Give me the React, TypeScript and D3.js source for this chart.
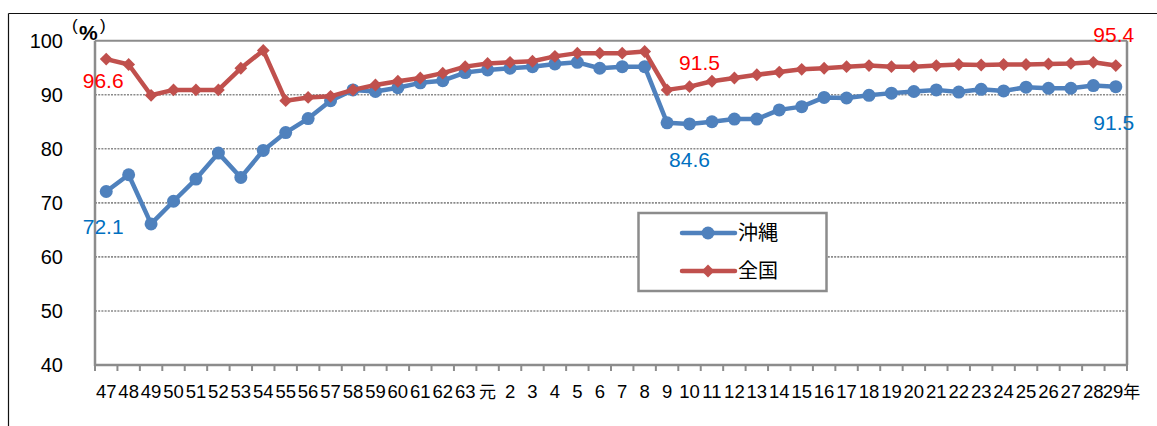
import React from "react";
import * as d3 from "d3";

const categories: string[] = [
  "47", "48", "49", "50", "51", "52", "53", "54", "55", "56", "57", "58", "59", "60", "61", "62", "63",
  "元", "2", "3", "4", "5", "6", "7", "8", "9", "10", "11", "12", "13", "14", "15", "16", "17", "18",
  "19", "20", "21", "22", "23", "24", "25", "26", "27", "28", "29年",
];

const okinawa: number[] = [
  72.1, 75.2, 66.1, 70.3, 74.4, 79.2, 74.7, 79.7, 83.0, 85.6, 88.9, 90.9, 90.6, 91.3, 92.2, 92.6, 94.1,
  94.6, 94.9, 95.2, 95.7, 96.0, 94.9, 95.2, 95.2, 84.8, 84.6, 85.0, 85.5, 85.5, 87.2, 87.8, 89.5, 89.4, 89.9,
  90.3, 90.6, 90.9, 90.5, 91.0, 90.7, 91.4, 91.2, 91.2, 91.7, 91.5,
];

const zenkoku: number[] = [
  96.6, 95.6, 89.9, 90.9, 90.9, 90.9, 94.9, 98.2, 88.9, 89.5, 89.7, 90.9, 91.8, 92.5, 93.1, 94.0, 95.2,
  95.8, 96.0, 96.2, 97.1, 97.7, 97.7, 97.7, 98.0, 90.9, 91.5, 92.5, 93.1, 93.7, 94.2, 94.7, 94.9, 95.2, 95.4,
  95.2, 95.2, 95.4, 95.6, 95.5, 95.6, 95.6, 95.7, 95.8, 96.0, 95.4,
];

const yTicks: number[] = [40, 50, 60, 70, 80, 90, 100];

const seriesNames: string[] = ["沖縄", "全国"];

// data labels: which category index, placed above or below the point
const okinawaLabels: { index: number; pos: "above" | "below" }[] = [
  { index: 0, pos: "below" },
  { index: 26, pos: "below" },
  { index: 45, pos: "below" },
];
const zenkokuLabels: { index: number; pos: "above" | "below" }[] = [
  { index: 0, pos: "below" },
  { index: 26, pos: "above" },
  { index: 45, pos: "above" },
];

const W = 1157;
const H = 426;
const left = 95;
const right = 1127;
const top = 40.7;
const bottom = 365;

const BLUE = "#4F81BD";
const RED = "#C0504D";
const BLUE_TXT = "#0070C0";
const RED_TXT = "#FF0000";
const AXIS = "#8C8C8C";
const FONT = "'Liberation Sans', Arial, sans-serif";
const CJK = "'Noto Sans CJK JP', sans-serif";

export default function App() {
  const x = d3.scaleBand<string>().domain(categories).range([left, right]).paddingInner(0).paddingOuter(0);
  const bw = x.bandwidth();
  const cx = (i: number) => (x(categories[i]) as number) + bw / 2;
  const y = d3.scaleLinear().domain([40, 100]).range([bottom, top]);

  const line = d3
    .line<number>()
    .x((_, i) => cx(i))
    .y((v) => y(v));

  const diamond = d3.symbol().type(d3.symbolSquare).size(82)();

  const labelEl = (
    vals: number[],
    labs: { index: number; pos: "above" | "below" }[],
    color: string,
    key: string
  ) =>
    labs.map((l, k) => {
      const v = vals[l.index];
      let dyPx: number;
      if (key === "z") {
        dyPx = l.index === 0 ? 29 : l.pos === "above" ? (l.index === 45 ? -24 : -17) : 29;
      } else {
        dyPx = 43;
      }
      return (
        <text
          key={key + k}
          x={cx(l.index) + (l.index === 45 ? -2 : l.index === 26 ? (key === "z" ? 10 : 0) : -3)}
          y={y(v) + dyPx}
          textAnchor="middle"
          fontFamily={FONT}
          fontSize={21}
          fill={color}
        >
          {v.toFixed(1)}
        </text>
      );
    });

  return (
    <div style={{ position: "absolute", left: 0, top: 0 }}>
      <svg width={W} height={H} style={{ display: "block", background: "#fff" }}>
        {/* outer frame */}
        <line x1={8.5} y1={13.5} x2={W} y2={13.5} stroke="#111" strokeWidth={1.2} />
        <line x1={8.5} y1={13.5} x2={8.5} y2={H} stroke="#111" strokeWidth={1.2} />

        {/* gridlines */}
        {yTicks
          .filter((t) => t > 40 && t < 100)
          .map((t) => (
            <line
              key={"g" + t}
              x1={left}
              x2={right}
              y1={y(t)}
              y2={y(t)}
              stroke="#8a8a8a"
              strokeWidth={1.6}
              strokeDasharray="2,1.2"
            />
          ))}
        {/* plot frame top & right */}
        <line x1={left} x2={right} y1={y(100)} y2={y(100)} stroke={AXIS} strokeWidth={2} />
        <line x1={right} x2={right} y1={y(100)} y2={bottom} stroke={AXIS} strokeWidth={2.5} />
        {/* axes */}
        <line x1={left} x2={left} y1={y(100)} y2={bottom + 1} stroke={AXIS} strokeWidth={2.5} />
        <line x1={left} x2={right + 1} y1={bottom} y2={bottom} stroke={AXIS} strokeWidth={2.5} />
        {/* ticks at category boundaries */}
        {d3.range(categories.length + 1).map((i) => (
          <line
            key={"t" + i}
            x1={left + i * bw}
            x2={left + i * bw}
            y1={bottom}
            y2={bottom + 6}
            stroke={AXIS}
            strokeWidth={2}
          />
        ))}

        {/* y labels */}
        {yTicks.map((t) => (
          <text
            key={"y" + t}
            x={63}
            y={y(t) + 7}
            textAnchor="end"
            fontFamily={FONT}
            fontSize={20}
            fill="#000"
          >
            {t}
          </text>
        ))}
        <text x={72} y={31} fontFamily={FONT} fontSize={17} fill="#000">
          (
        </text>
        <text x={79} y={40} fontFamily={FONT} fontSize={21} fontWeight={600} fill="#000">
          %
        </text>
        <text x={100} y={31} fontFamily={FONT} fontSize={17} fill="#000">
          )
        </text>

        {/* x labels */}
        {categories.map((c, i) => {
          const isNengo = c === "元";
          const hasNen = c.endsWith("年");
          if (hasNen) {
            const num = c.replace("年", "");
            return (
              <text key={"x" + i} x={cx(i) - 13} y={398} fontFamily={FONT} fontSize={18.5} fill="#000">
                {num}
                <tspan fontFamily={CJK} fontSize={17}>
                  年
                </tspan>
              </text>
            );
          }
          return (
            <text
              key={"x" + i}
              x={cx(i)}
              y={398}
              textAnchor="middle"
              fontFamily={isNengo ? CJK : FONT}
              fontSize={isNengo ? 17 : 18.5}
              fill="#000"
            >
              {c}
            </text>
          );
        })}

        {/* series: okinawa */}
        <path d={line(okinawa) as string} fill="none" stroke={BLUE} strokeWidth={4.5} strokeLinejoin="round" />
        {okinawa.map((v, i) => (
          <circle key={"o" + i} cx={cx(i)} cy={y(v)} r={6.5} fill={BLUE} />
        ))}
        {/* series: zenkoku */}
        <path d={line(zenkoku) as string} fill="none" stroke={RED} strokeWidth={4.5} strokeLinejoin="round" />
        {zenkoku.map((v, i) => (
          <path
            key={"z" + i}
            d={diamond as string}
            transform={`translate(${cx(i)},${y(v)}) rotate(45)`}
            fill={RED}
          />
        ))}

        {/* data labels */}
        {labelEl(zenkoku, zenkokuLabels, RED_TXT, "z")}
        {labelEl(okinawa, okinawaLabels, BLUE_TXT, "o")}

        {/* legend */}
        <rect x={638.5} y={213} width={188} height={78} fill="#fff" stroke={AXIS} strokeWidth={2.5} />
        {seriesNames.map((n, k) => {
          const ly = 233 + k * 38;
          return (
            <g key={"l" + k}>
              <line
                x1={682}
                x2={735}
                y1={ly}
                y2={ly}
                stroke={k === 0 ? BLUE : RED}
                strokeWidth={4.5}
                strokeLinecap="round"
              />
              {k === 0 ? (
                <circle cx={708} cy={ly} r={6.5} fill={BLUE} />
              ) : (
                <path d={diamond as string} transform={`translate(708,${ly}) rotate(45)`} fill={RED} />
              )}
              <text x={738} y={ly + 7} fontFamily={CJK} fontSize={20} fill="#000">
                {n}
              </text>
            </g>
          );
        })}
      </svg>
    </div>
  );
}
